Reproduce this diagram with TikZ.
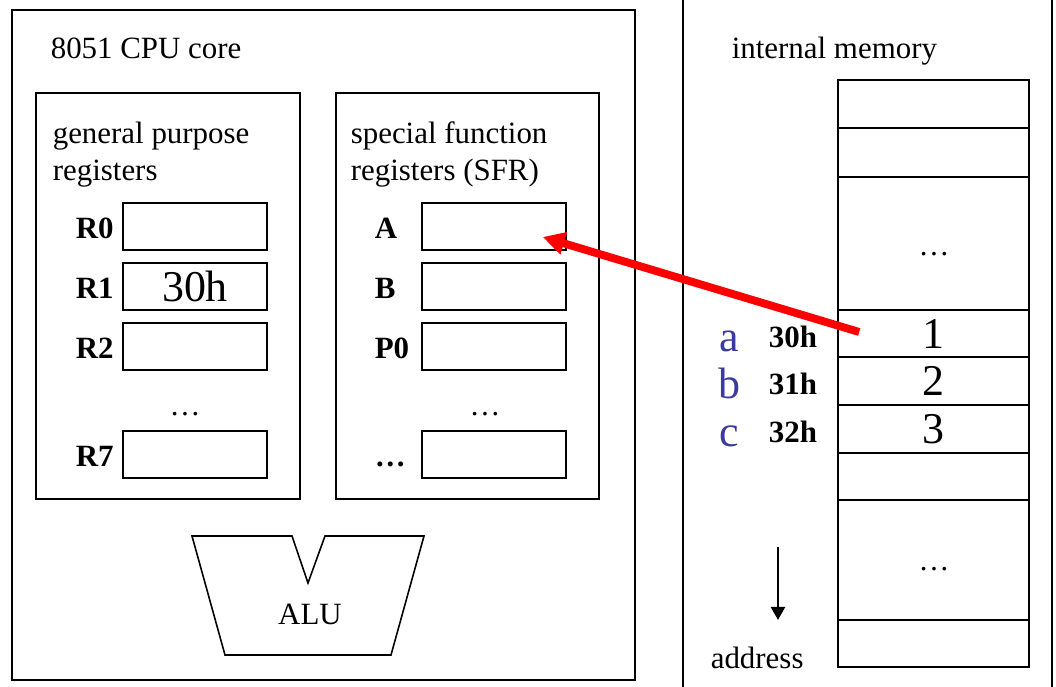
\documentclass[tikz,border=0pt]{standalone}
\usepackage{fontspec}
\setmainfont{Liberation Serif}
\usepackage{xcolor}
\usetikzlibrary{arrows.meta, positioning}
\definecolor{varblue}{RGB}{58,58,160}
\tikzset{
    diagram/.style={font=\fontsize{17.6}{21}\selectfont, line width=0.9pt},
    diagram box/.style={draw, inner sep=0pt, line width=0.9pt},
    regbox/.style={diagram box, minimum width=2.88cm, minimum height=0.94cm,
        font=\fontsize{25}{30}\selectfont},
    reglabel/.style={font=\fontsize{17.6}{21}\selectfont\bfseries, inner sep=0pt, anchor=base west},
    diagram text/.style={inner sep=0pt, anchor=base west},
    diagram title/.style={inner sep=0pt, anchor=north west, align=left},
    ptr arrow/.style={-{Triangle[length=12.5pt,width=12.5pt]}, red, line width=4.5pt},
    addr arrow/.style={-{Triangle[length=7.5pt,width=8pt]}, line width=1.5pt},
}
\begin{document}
\begin{tikzpicture}[
    x=0.02cm, y=-0.02cm,
    diagram,
    cell/.style={diagram box, minimum width=3.82cm, font=\fontsize{25}{30}\selectfont},
    varlabel/.style={font=\fontsize{25}{30}\selectfont, text=varblue, inner sep=0pt, anchor=base}
  ]
    \useasboundingbox (0,0) rectangle (1056,687);

    \draw (12,10) rectangle (635,680);
    \node[diagram text] (cputitle) at (50,58) {8051 CPU core};

    \draw (36,93) rectangle (300,499);
    \node[diagram title] (gprtitle) at (52,121) {general purpose\\registers};
    \foreach \name/\y/\lbl/\val in {r0/226.5/R0/{}, r1/286.5/R1/30h, r2/346.5/R2/{}, r7/454.5/R7/{}} {
        \node[regbox] (\name) at (195,\y) {\val};
        \node[reglabel] (\name-lbl) at (75,\y+11.5) {\lbl};
    }
    \node[diagram text, anchor=base] (gprdots) at (185,415) {…};

    \draw (336,93) rectangle (599,499);
    \node[diagram title] (sfrtitle) at (350,121) {special function\\registers (SFR)};
    \foreach \name/\y/\lbl in {sa/226.5/A, sb/286.5/B, sp/346.5/P0, sx/454.5/…} {
        \node[regbox] (\name) at (494,\y) {};
        \node[reglabel] (\name-lbl) at (374,\y+11.5) {\lbl};
    }
    \node[diagram text, anchor=base] (sfrdots) at (485,415) {…};

    \draw (192,536) -- (292,536) -- (308,583) -- (325,536) -- (424,536)
        -- (391,655) -- (225,655) -- cycle;
    \node[diagram text, anchor=base] (alu) at (310,624) {ALU};

    \draw (683,0) -- (683,687);
    \draw (1052,0) -- (1052,687);
    \node[diagram text] (memtitle) at (731,58) {internal memory};
    \foreach \name/\top/\bot/\val in {m1/80/128/{}, m2/128/177/{}, m3/177/310/{},
        m4/310/357/1, m5/357/405/2, m6/405/453/3, m7/453/500/{}, m8/500/620/{}, m9/620/667/{}} {
        \node[cell, minimum height={(\bot-\top)*0.02cm}] (\name) at (933.5,{(\top+\bot)/2}) {\val};
    }
    \node[diagram text, anchor=base] (m3-dots) at (934,255) {…};
    \node[diagram text, anchor=base] (m8-dots) at (934,570) {…};
    \foreach \v/\ad/\y in {a/30h/333.5, b/31h/381, c/32h/429} {
        \node[varlabel] (var-\v) at (729,\y+17.5) {\v};
        \node[reglabel, anchor=base] (adr-\v) at (793,\y+13.5) {\ad};
    }

    \coordinate (dirtop) at (778,547);
    \coordinate (dirbot) at (778,620);
    \draw[addr arrow] (dirtop) -- (dirbot);
    \node[diagram text] (address) at (710,668) {address};

    \draw[ptr arrow] ([xshift=0.44cm,yshift=0.03cm]m4.west) -- ([xshift=-0.48cm,yshift=-0.21cm]sa.east);
  \end{tikzpicture}
\end{document}
